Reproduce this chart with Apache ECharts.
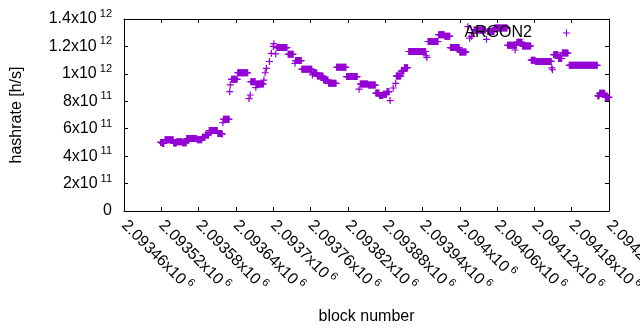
<!DOCTYPE html>
<html><head><meta charset="utf-8">
<script src="https://cdn.jsdelivr.net/npm/echarts@6/dist/echarts.min.js"></script>
<style>html,body{margin:0;padding:0;background:#fff}#c{width:640px;height:330px}</style>
</head><body><div id="c"></div>
<script>
const seriesName = 'ARGON2';
const xTitle = 'block number';
const yTitle = 'hashrate [h/s]';
// Runs of consecutive blocks sharing the same hashrate
const runStartBlock = [2093519,2093522,2093526,2093540,2093545,2093554,2093561,2093578,2093586,2093591,2093597,2093611,2093618,2093619,2093620,2093630,2093631,2093633,2093643,2093661,2093663,2093664,2093672,2093673,2093685,2093687,2093689,2093694,2093697,2093700,2093701,2093704,2093706,2093724,2093735,2093736,2093746,2093763,2093764,2093771,2093781,2093789,2093802,2093818,2093838,2093840,2093853,2093865,2093871,2093877,2093883,2093888,2093893,2093897,2093898,2093906,2093911,2093918,2093946,2093947,2093949,2093966,2093976,2093985,2094000,2094013,2094016,2094019,2094021,2094023,2094043,2094045,2094056,2094077,2094089,2094090,2094092,2094101,2094115,2094122,2094148,2094149,2094151,2094159,2094165,2094176,2094222,2094225,2094234];
const runEndBlock   = [2093521,2093524,2093539,2093544,2093553,2093560,2093577,2093585,2093590,2093596,2093610,2093617,2093618,2093619,2093629,2093630,2093631,2093642,2093659,2093661,2093663,2093671,2093672,2093684,2093685,2093687,2093689,2093694,2093697,2093700,2093701,2093704,2093722,2093732,2093735,2093745,2093762,2093763,2093770,2093780,2093788,2093801,2093817,2093835,2093838,2093852,2093864,2093870,2093876,2093882,2093886,2093888,2093893,2093897,2093905,2093910,2093916,2093945,2093946,2093947,2093965,2093975,2093984,2093999,2094010,2094013,2094016,2094019,2094021,2094041,2094043,2094055,2094076,2094088,2094089,2094091,2094100,2094114,2094121,2094147,2094148,2094149,2094158,2094164,2094174,2094221,2094224,2094233,2094240];
// hashrate in units of 1e11 h/s
const runHashrate   = [5.0,4.93,5.2,4.95,5.05,4.97,5.28,5.2,5.38,5.55,5.87,5.65,5.6,6.44,6.69,8.7,9.2,9.6,10.08,8.2,8.46,9.43,9.0,9.26,9.55,10.08,10.4,10.9,11.5,12.0,12.2,11.45,11.92,11.43,10.77,10.97,10.33,9.92,10.06,9.84,9.55,9.31,10.48,9.8,8.88,9.26,9.18,8.6,8.42,8.52,8.7,8.05,8.97,9.31,9.84,10.2,10.45,11.63,11.32,11.2,12.36,12.86,12.74,11.92,11.6,13.44,12.6,12.74,12.96,13.2,12.52,13.09,13.34,12.08,11.74,12.08,12.3,12.03,11.0,10.91,10.43,10.3,11.4,11.12,11.52,10.62,8.4,8.58,8.28];
const xMin = 2093460, xMax = 2094240, xStep = 60;
const yMin = 0, yMax = 1.4e12, yStep = 2e11;

const points = [];
runStartBlock.forEach(function (s, i) {
  for (let b = s; b <= runEndBlock[i]; b++) points.push([b, runHashrate[i] * 1e11]);
});

const FONT = '"Liberation Sans", Arial, sans-serif';
const PLUS = 'path://M2.9,0H4.1V2.9H7V4.1H4.1V7H2.9V4.1H0V2.9H2.9Z';
const COLOR = '#9400d3';

function sci(v) {
  if (v === 0) return '{b|0}';
  const e = Math.floor(Math.log10(Math.abs(v)) + 1e-9);
  const m = +(v / Math.pow(10, e)).toFixed(6);
  return '{b|' + m + 'x10}{s|' + e + '}';
}
const rich = {
  b: { fontSize: 16, fontFamily: FONT, color: '#000', lineHeight: 16 },
  s: { fontSize: 11, fontFamily: FONT, color: '#000', lineHeight: 11, padding: [0, 0, 10, 3] }
};
const axLine = { show: true, onZero: false, lineStyle: { color: '#000', width: 1 } };
const axTick = { show: true, inside: true, length: 4, lineStyle: { color: '#000', width: 1 } };

const chart = echarts.init(document.getElementById('c'), null, { renderer: 'canvas' });
chart.setOption({
  animation: false,
  backgroundColor: '#fff',
  grid: { left: 124, right: 31, top: 19, bottom: 119, containLabel: false, outerBoundsMode: 'none' },
  legend: {
    data: [{ name: seriesName, icon: PLUS }],
    right: 70, top: 25, padding: 0, align: 'right',
    itemWidth: 7, itemHeight: 7, selectedMode: false,
    textStyle: { fontSize: 16, color: '#000', fontFamily: FONT, padding: [0, 26, 0, 0] }
  },
  xAxis: [{
    type: 'value', position: 'bottom', min: xMin, max: xMax, interval: xStep,
    axisLine: axLine, axisTick: axTick, splitLine: { show: false },
    axisLabel: { rotate: -45, margin: 12, showMaxLabel: true, showMinLabel: true, hideOverlap: false,
      formatter: function (v) { return sci(v); }, rich: rich },
    name: xTitle, nameLocation: 'middle', nameGap: 98,
    nameTextStyle: { fontSize: 16, color: '#000', fontFamily: FONT }
  }, {
    type: 'value', position: 'top', min: xMin, max: xMax, interval: xStep,
    axisLine: axLine, axisTick: axTick, splitLine: { show: false }, axisLabel: { show: false }
  }],
  yAxis: [{
    type: 'value', position: 'left', min: yMin, max: yMax, interval: yStep,
    axisLine: axLine, axisTick: axTick, splitLine: { show: false },
    axisLabel: { margin: 12, formatter: function (v) { return sci(v); }, rich: rich },
    name: yTitle, nameLocation: 'middle', nameGap: 99,
    nameTextStyle: { fontSize: 16, color: '#000', fontFamily: FONT }
  }, {
    type: 'value', position: 'right', min: yMin, max: yMax, interval: yStep,
    axisLine: axLine, axisTick: axTick, splitLine: { show: false }, axisLabel: { show: false }
  }],
  series: [{
    type: 'scatter', name: seriesName, data: points,
    symbol: PLUS, symbolSize: 7, large: false,
    itemStyle: { color: COLOR, opacity: 1 },
    emphasis: { disabled: true }
  }]
});
</script></body></html>
